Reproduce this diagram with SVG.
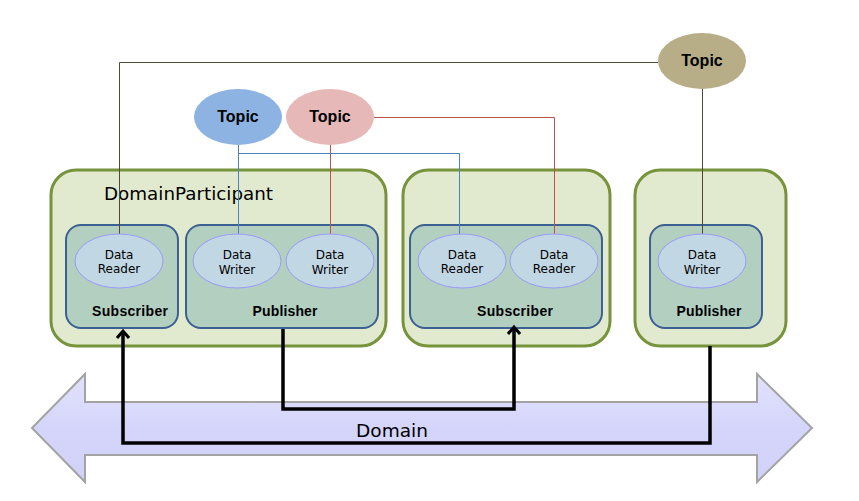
<svg xmlns="http://www.w3.org/2000/svg" width="859" height="501" viewBox="0 0 859 501">
<style>
.part{fill:#E1EACE;stroke:#77933C;stroke-width:3}
.inner{fill:#B3CFC0;stroke:#3B6193;stroke-width:2}
.ent{fill:#C2D7E4;stroke:#9A9AFA;stroke-width:1}
.small{font-family:"DejaVu Sans","Liberation Sans",sans-serif;font-size:12px;fill:#000;text-anchor:middle}
.lbl{font-family:"Liberation Sans","DejaVu Sans",sans-serif;font-size:14px;font-weight:bold;fill:#000;text-anchor:middle}
.topic{font-family:"Liberation Sans","DejaVu Sans",sans-serif;font-size:16px;font-weight:bold;fill:#000;text-anchor:middle}
.big{font-family:"DejaVu Sans","Liberation Sans",sans-serif;font-size:18px;fill:#000}
.thin{fill:none;stroke-width:1}
.bus{fill:none;stroke:#000;stroke-width:3.5;stroke-linejoin:miter}
</style>
<defs>
<marker id="ah" markerUnits="userSpaceOnUse" markerWidth="14" markerHeight="14" viewBox="0 0 14 14" refX="11" refY="7" orient="auto">
<path d="M4,1 L11,7 L4,13" fill="none" stroke="#000" stroke-width="3"/>
</marker>
<linearGradient id="dg" x1="0" y1="0" x2="0" y2="1">
<stop offset="0" stop-color="#E2E2FC"/>
<stop offset="0.5" stop-color="#D5D5FB"/>
<stop offset="1" stop-color="#D2D2F8"/>
</linearGradient>
</defs>
<rect width="859" height="501" fill="#fff"/>

<g id="domain">
<polygon points="32,428 85,374 85,402 757,402 757,374 812,428 757,482 757,455 85,455 85,482" fill="url(#dg)" stroke="#A3A3A3" stroke-width="2"/>
<text class="big" x="392" y="437" text-anchor="middle" textLength="72" lengthAdjust="spacingAndGlyphs">Domain</text>
</g>

<g id="participant1">
<rect class="part" x="51" y="170" width="335" height="176" rx="25"/>
<text class="big" x="104" y="200" textLength="169" lengthAdjust="spacingAndGlyphs">DomainParticipant</text>
</g>
<g id="participant2">
<rect class="part" x="403" y="170" width="207" height="176" rx="25"/>
</g>
<g id="participant3">
<rect class="part" x="635" y="170" width="151" height="176" rx="25"/>
</g>

<g id="subscriber1">
<rect class="inner" x="66" y="225" width="112" height="103" rx="15"/>
<text class="lbl" x="130" y="316" textLength="76" lengthAdjust="spacing">Subscriber</text>
</g>
<g id="publisher1">
<rect class="inner" x="186" y="225" width="192" height="103" rx="15"/>
<text class="lbl" x="285" y="316" textLength="65" lengthAdjust="spacing">Publisher</text>
</g>
<g id="subscriber2">
<rect class="inner" x="410" y="225" width="192" height="103" rx="15"/>
<text class="lbl" x="515" y="316" textLength="76" lengthAdjust="spacing">Subscriber</text>
</g>
<g id="publisher3">
<rect class="inner" x="650" y="225" width="112" height="103" rx="15"/>
<text class="lbl" x="709" y="316" textLength="65" lengthAdjust="spacing">Publisher</text>
</g>

<g id="connectors">
<path class="thin" stroke="#4F4A36" d="M658,62.5 H119.5 V234"/>
<path class="thin" stroke="#4F4A36" d="M702.5,88 V234"/>
<path class="thin" stroke="#4F81BD" d="M238.5,145 V234"/>
<path class="thin" stroke="#4F81BD" d="M238.5,153.5 H459.5 V234"/>
<path class="thin" stroke="#C0504D" d="M330.5,145 V234"/>
<path class="thin" stroke="#C0504D" d="M374,117.5 H554.5 V234"/>
<path class="bus" d="M710,346 V443 H123 V331" marker-end="url(#ah)"/>
<path class="bus" d="M283,329 V409 H514 V327" marker-end="url(#ah)"/>
</g>

<g id="reader1">
<ellipse class="ent" cx="119" cy="261" rx="44" ry="27"/>
<text class="small" x="119" y="259">Data</text>
<text class="small" x="119" y="273">Reader</text>
</g>
<g id="writer1">
<ellipse class="ent" cx="237" cy="261" rx="44" ry="27"/>
<text class="small" x="237" y="259">Data</text>
<text class="small" x="237" y="274">Writer</text>
</g>
<g id="writer2">
<ellipse class="ent" cx="330" cy="261" rx="44" ry="27"/>
<text class="small" x="330" y="259">Data</text>
<text class="small" x="330" y="274">Writer</text>
</g>
<g id="reader2">
<ellipse class="ent" cx="462" cy="261" rx="44" ry="27"/>
<text class="small" x="462" y="259">Data</text>
<text class="small" x="462" y="273">Reader</text>
</g>
<g id="reader3">
<ellipse class="ent" cx="554" cy="261" rx="44" ry="27"/>
<text class="small" x="554" y="259">Data</text>
<text class="small" x="554" y="273">Reader</text>
</g>
<g id="writer3">
<ellipse class="ent" cx="702" cy="261" rx="44" ry="27"/>
<text class="small" x="702" y="259">Data</text>
<text class="small" x="702" y="274">Writer</text>
</g>

<g id="topic-blue">
<ellipse cx="238" cy="117" rx="44" ry="28" fill="#8DB3E2"/>
<text class="topic" x="238" y="122">Topic</text>
</g>
<g id="topic-pink">
<ellipse cx="330" cy="117" rx="44" ry="28" fill="#E6B9B8"/>
<text class="topic" x="330" y="122">Topic</text>
</g>
<g id="topic-brown">
<ellipse cx="702" cy="61" rx="44" ry="28" fill="#B7AD86"/>
<text class="topic" x="702" y="66">Topic</text>
</g>
</svg>
